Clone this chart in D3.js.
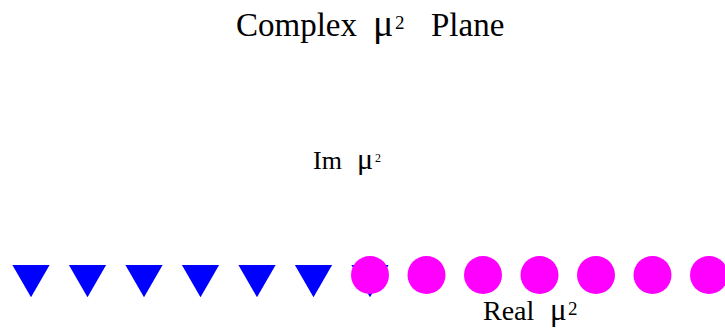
<!DOCTYPE html>
<html>
<head>
<meta charset="utf-8">
<script src="https://cdn.jsdelivr.net/npm/d3@7"></script>
<style>
  html, body { margin: 0; padding: 0; background: #fff; }
  svg { display: block; }
  text { font-family: "Liberation Serif", "Times New Roman", serif; fill: #000; }
</style>
</head>
<body>
<svg id="chart" width="725" height="329"></svg>
<script>
// Points on the real axis of the complex mu^2 plane
const triangleRe = [-6, -5, -4, -3, -2, -1, 0];
const circleRe = [0, 1, 2, 3, 4, 5, 6];
const pointIm = 0;

const titleHead = "Complex";
const titleTail = "Plane";
const imLabel = "Im";
const reLabel = "Real";

const svg = d3.select("#chart");

const x = d3.scaleLinear().domain([-6, 6]).range([31, 709]);
const y = d3.scaleLinear().domain([-1, 1]).range([424, 126]);

// Downward-pointing triangles
svg.append("g")
  .selectAll("path")
  .data(triangleRe)
  .join("path")
  .attr("d", d3.symbol().type(d3.symbolTriangle).size(600))
  .attr("transform", d => `translate(${x(d)},${y(pointIm) + 0.7}) rotate(180)`)
  .attr("fill", "#0000ff");

// Filled circles
svg.append("g")
  .selectAll("path")
  .data(circleRe)
  .join("path")
  .attr("d", d3.symbol().type(d3.symbolCircle).size(Math.PI * 19 * 19))
  .attr("transform", d => `translate(${x(d)},${y(pointIm)})`)
  .attr("fill", "#ff00ff");

// Label with a word, a mu and a superscript 2
function muLabel(opts) {
  const t = svg.append("text").attr("y", opts.y);
  t.append("tspan").attr("x", opts.x).attr("font-size", opts.size).text(opts.head);
  t.append("tspan").attr("x", opts.muX).attr("font-size", opts.muSize).text("\u03bc");
  t.append("tspan").attr("x", opts.supX).attr("y", opts.supY)
    .attr("font-size", opts.supSize).text("2");
  if (opts.tail) {
    t.append("tspan").attr("x", opts.tailX).attr("y", opts.y)
      .attr("font-size", opts.size).text(opts.tail);
  }
  return t;
}

// Title
muLabel({ head: titleHead, x: 236, y: 36, size: 33,
  muX: 373, muSize: 38, supX: 395, supY: 29, supSize: 19,
  tail: titleTail, tailX: 431 });

// Imaginary axis label
muLabel({ head: imLabel, x: 313, y: 169, size: 26,
  muX: 357, muSize: 30, supX: 375, supY: 162, supSize: 12 });

// Real axis label
muLabel({ head: reLabel, x: 483, y: 320, size: 28,
  muX: 550, muSize: 31, supX: 568, supY: 315, supSize: 19 });
</script>
</body>
</html>
